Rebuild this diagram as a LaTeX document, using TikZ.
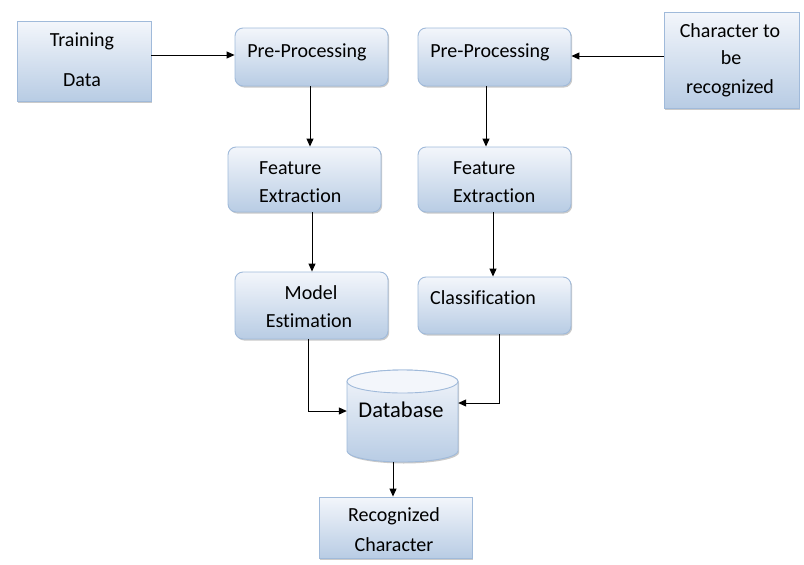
\documentclass[tikz,border=0pt]{standalone}
\usepackage{fontspec}
\setmainfont[Ligatures=NoCommon]{Carlito}
\usetikzlibrary{arrows.meta,shadows}
\definecolor{boxtop}{RGB}{243,246,251}
\definecolor{boxbot}{RGB}{184,204,228}
\definecolor{boxline}{RGB}{160,186,218}
\tikzset{
  boxbase/.style={draw=boxline, line width=0.9pt, top color=boxtop, bottom color=boxbot,
    drop shadow={shadow xshift=1.2pt, shadow yshift=-1.5pt, opacity=0.35, fill=black!60}},
  rbox/.style={boxbase, rounded corners=8pt},
  sbox/.style={boxbase},
  lbl/.style={anchor=base, inner sep=0pt, text=black, font=\fontsize{20}{24}\selectfont},
  lbll/.style={lbl, anchor=base west},
  conn/.style={line width=1pt, draw=black, -{Triangle[length=8pt,width=7pt]}},
}
\begin{document}
\begin{tikzpicture}[x=1pt,y=-1pt]
\useasboundingbox (0,0) rectangle (804,565);
% boxes
\node[sbox, minimum width=134pt, minimum height=80pt, inner sep=0pt] (train) at (84,61) {};
\node[lbl] at (82,46) {Training};
\node[lbl] at (82,86) {Data};

\node[rbox, minimum width=153pt, minimum height=58pt, inner sep=0pt] (pp1) at (311.5,57) {};
\node[lbl] at (307,57) {Pre-Processing};

\node[rbox, minimum width=153pt, minimum height=58pt, inner sep=0pt] (pp2) at (494.5,57) {};
\node[lbl] at (490,57) {Pre-Processing};

\node[sbox, minimum width=135pt, minimum height=96pt, inner sep=0pt] (chr) at (731.5,60) {};
\node[lbl] at (730,37) {Character to};
\node[lbl] at (731,64) {be};
\node[lbl] at (730,93) {recognized};

\node[rbox, minimum width=153pt, minimum height=65pt, inner sep=0pt] (fe1) at (304.5,179.5) {};
\node[lbll] at (259,174) {Feature};
\node[lbll] at (259,202) {Extraction};

\node[rbox, minimum width=153pt, minimum height=65pt, inner sep=0pt] (fe2) at (494.5,179.5) {};
\node[lbll] at (453,174) {Feature};
\node[lbll] at (453,202) {Extraction};

\node[rbox, minimum width=153pt, minimum height=67pt, inner sep=0pt] (me) at (311.5,305.5) {};
\node[lbl] at (311,299) {Model};
\node[lbl] at (309,327) {Estimation};

\node[rbox, minimum width=153pt, minimum height=57pt, inner sep=0pt] (cls) at (494.5,305.5) {};
\node[lbll] at (430,304) {Classification};

% database cylinder
\path[draw=boxline, line width=0.9pt, top color=boxtop, bottom color=boxbot,
  drop shadow={shadow xshift=1.2pt, shadow yshift=-1.5pt, opacity=0.35, fill=black!60}]
  (347,381.5) -- (347,451) arc[start angle=180, end angle=0, x radius=55.5, y radius=11]
  -- (458,381.5) arc[start angle=0, end angle=180, x radius=55.5, y radius=-11.5] -- cycle;
\path[draw=boxline, line width=0.9pt, fill=boxtop] (402.5,381.5) ellipse[x radius=55.5, y radius=11.5];
\node[inner sep=0pt, minimum width=111pt, minimum height=92pt] (db) at (402.5,416) {};
\node[lbl, font=\fontsize{22.5}{26}\selectfont] at (401,417) {Database};

\node[sbox, minimum width=153pt, minimum height=61pt, inner sep=0pt] (rc) at (395.5,527.5) {};
\node[lbl] at (394,521) {Recognized};
\node[lbl] at (394,551) {Character};

% connectors
\draw[conn] (train.east |- 0,55) -- (pp1.west |- 0,55);
\draw[conn] (chr.west |- 0,56) -- (pp2.east |- 0,56);
\draw[conn] (pp1.south -| 310,0) -- (fe1.north -| 310,0);
\draw[conn] (pp2.south -| 486,0) -- (fe2.north -| 486,0);
\draw[conn] (fe1.south -| 312,0) -- (me.north -| 312,0);
\draw[conn] (fe2.south -| 493,0) -- (cls.north -| 493,0);
\draw[conn] (me.south -| 308,0) -- (308,411) -- (db.west |- 0,411);
\draw[conn] (cls.south -| 499,0) -- (499,403) -- (db.east |- 0,403);
\draw[conn] (db.south -| 393,0) -- (rc.north -| 393,0);
\end{tikzpicture}
\end{document}
